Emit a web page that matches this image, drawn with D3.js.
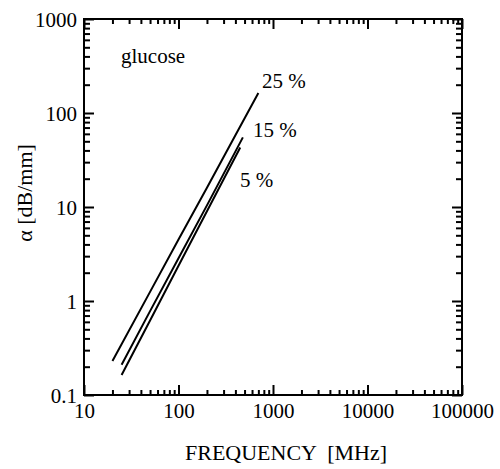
<!DOCTYPE html>
<html>
<head>
<meta charset="utf-8">
<script src="https://cdn.jsdelivr.net/npm/d3@7"></script>
<style>
  @font-face { font-family: 'PaperSerif'; src: local('Liberation Serif'), local('LiberationSerif'); }
</style>
</head>
<body style="margin:0">
<svg id="s" width="500" height="469"></svg>
<script>
// values
const freq25 = [20, 50, 100, 200, 400, 700];
const alpha25 = [0.23, 1.25, 4.5, 16, 58, 163];
const freq15 = [25, 50, 100, 200, 480];
const alpha15 = [0.21, 0.78, 2.85, 10.4, 55];
const freq5 = [25, 50, 100, 200, 450];
const alpha5 = [0.163, 0.62, 2.37, 9.0, 43];
const seriesLabels = ['25 %', '15 %', '5 %'];

const xTicks = [10, 100, 1000, 10000, 100000];
const yTicks = [0.1, 1, 10, 100, 1000];

const w = 500, h = 469;
const margin = {top: 19, right: 38, bottom: 74, left: 84};
const serif = "'Liberation Serif', PaperSerif, serif";

const svg = d3.select('#s').style('font-family', serif, 'important');

const x = d3.scaleLog().domain([10, 100000]).range([margin.left, w - margin.right]);
const y = d3.scaleLog().domain([0.1, 1000]).range([h - margin.bottom, margin.top]);

// minor ticks for log axes
function minorTicks(lo, hi) {
    const out = [];
    for (let d = lo; d < hi; d *= 10) {
        for (let k = 2; k <= 9; k++) out.push(d * k);
    }
    return out;
}
const xMinor = minorTicks(10, 100000);
const yMinor = minorTicks(0.1, 1000);

const fmt = d => String(d);

// ticks point inward on every side
const axBottom = d3.axisBottom(x).tickValues(xTicks).tickSize(-10).tickFormat(fmt).tickPadding(8);
const axTop = d3.axisTop(x).tickValues(xTicks).tickSize(-10).tickFormat('');
const axLeft = d3.axisLeft(y).tickValues(yTicks).tickSize(-10).tickFormat(fmt).tickPadding(7);
const axRight = d3.axisRight(y).tickValues(yTicks).tickSize(-10).tickFormat('');

const bMinor = d3.axisBottom(x).tickValues(xMinor).tickSize(-5).tickFormat('');
const tMinor = d3.axisTop(x).tickValues(xMinor).tickSize(-5).tickFormat('');
const lMinor = d3.axisLeft(y).tickValues(yMinor).tickSize(-6).tickFormat('');
const rMinor = d3.axisRight(y).tickValues(yMinor).tickSize(-6).tickFormat('');

function put(axis, tx, ty) {
    const g = svg.append('g').attr('transform', `translate(${tx},${ty})`).call(axis);
    g.attr('font-family', null);
    g.select('.domain').remove();
    g.selectAll('line').attr('stroke', '#000').attr('stroke-width', 2);
    g.selectAll('text')
        .style('font-family', serif, 'important')
        .style('font-size', '21px')
        .attr('fill', '#000');
    return g;
}
put(bMinor, 0, h - margin.bottom);
put(tMinor, 0, margin.top);
put(lMinor, margin.left, 0);
put(rMinor, w - margin.right, 0);
put(axBottom, 0, h - margin.bottom);
put(axTop, 0, margin.top);
put(axLeft, margin.left, 0).selectAll('text').attr('dy', '0.35em');
put(axRight, w - margin.right, 0);

// frame
svg.append('rect')
    .attr('x', margin.left).attr('y', margin.top)
    .attr('width', w - margin.left - margin.right)
    .attr('height', h - margin.top - margin.bottom)
    .attr('fill', 'none').attr('stroke', '#000').attr('stroke-width', 2);

// data lines
const line = d3.line().x(d => x(d[0])).y(d => y(d[1]));
const series = [
    d3.zip(freq25, alpha25),
    d3.zip(freq15, alpha15),
    d3.zip(freq5, alpha5)
];
svg.selectAll('path.curve')
    .data(series)
    .join('path')
    .attr('class', 'curve')
    .attr('d', line)
    .attr('fill', 'none')
    .attr('stroke', '#000')
    .attr('stroke-width', 2);

// series labels next to line ends
const labelPos = [[262, 88], [253, 137], [240, 187]];
svg.selectAll('text.lab')
    .data(seriesLabels)
    .join('text')
    .attr('class', 'lab')
    .attr('x', (d, i) => labelPos[i][0])
    .attr('y', (d, i) => labelPos[i][1])
    .style('font-family', serif, 'important')
    .style('font-size', '21px')
    .text(d => d);

svg.append('text')
    .attr('x', 121).attr('y', 63)
    .style('font-family', serif, 'important')
    .style('font-size', '21px')
    .text('glucose');

// axis titles
svg.append('text')
    .attr('x', (margin.left + w - margin.right) / 2 + 13)
    .attr('y', 460)
    .attr('text-anchor', 'middle')
    .style('white-space', 'pre')
    .style('font-family', serif, 'important')
    .style('font-size', '22px')
    .text('FREQUENCY  [MHz]');

svg.append('text')
    .attr('transform', 'translate(32,193) rotate(-90)')
    .attr('text-anchor', 'middle')
    .style('font-family', serif, 'important')
    .style('font-size', '22px')
    .text('α [dB/mm]');
</script>
</body>
</html>
